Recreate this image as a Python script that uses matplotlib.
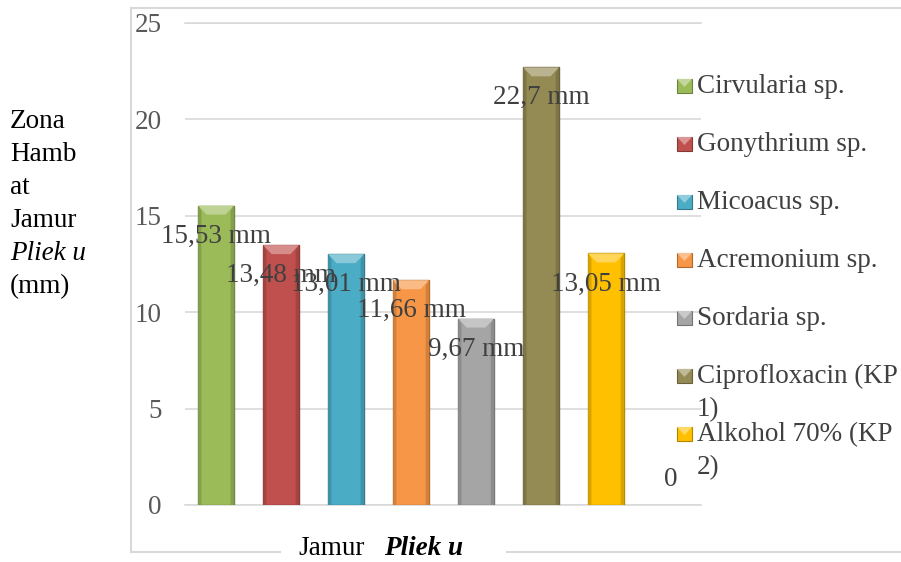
import matplotlib.pyplot as plt
import matplotlib.colors as mcolors
from matplotlib.patches import Polygon, Rectangle
from matplotlib.lines import Line2D
import numpy as np

plt.rcParams['font.family'] = ['Liberation Serif', 'DejaVu Serif']

# zona hambat per perlakuan (mm)
series = ['Cirvularia sp.', 'Gonythrium sp.', 'Micoacus sp.', 'Acremonium sp.',
          'Sordaria sp.', 'Ciprofloxacin (KP\n1)', 'Alkohol 70% (KP\n2)', '']
values = [15.53, 13.48, 13.01, 11.66, 9.67, 22.7, 13.05, 0]
labels = ['15,53 mm', '13,48 mm', '13,01 mm', '11,66 mm', '9,67 mm',
          '22,7 mm', '13,05 mm', '0']
colors = ['#9bbb59', '#c0504d', '#4bacc6', '#f79646', '#a5a5a5',
          '#948a54', '#ffc000', '#8064a2']
yticks = [0, 5, 10, 15, 20, 25]

W, H = 901, 562
FS = 19.5
GRID = '#d9d9d9'


def fx(x):
    return x / W


def fy(y):
    return 1 - y / H


def shade(c, f):
    r = np.array(mcolors.to_rgb(c))
    return tuple(r * f)


def tint(c, f):
    r = np.array(mcolors.to_rgb(c))
    return tuple(r + (1 - r) * f)


fig = plt.figure(figsize=(W / 100, H / 100), dpi=100)
ax = fig.add_axes([fx(185), fy(505), (701 - 185) / W, (505 - 23) / H])

x = np.arange(len(values))
bw = 0.55
ax.bar(x, values, width=bw, color=colors, edgecolor=[shade(c, 0.72) for c in colors],
       linewidth=[1 if v > 0 else 0 for v in values], zorder=3)

# bevel on the top of each bar
px_per_unit = (505 - 23) / 25
cap = 9 / px_per_unit
inset = 0.13
for xi, v, c in zip(x, values, colors):
    if v <= 0:
        continue
    l, r = xi - bw / 2, xi + bw / 2
    ax.add_patch(Polygon([(l, v), (r, v), (r - inset, v - cap), (l + inset, v - cap)],
                         closed=True, facecolor=tint(c, 0.35), edgecolor='none', zorder=4))
    ax.add_patch(Polygon([(l, 0), (l + 0.05, 0), (l + 0.05, v - cap * 0.6), (l, v)],
                         closed=True, facecolor=shade(c, 0.85), edgecolor='none', zorder=4))
    ax.add_patch(Polygon([(r, 0), (r - 0.05, 0), (r - 0.05, v - cap * 0.6), (r, v)],
                         closed=True, facecolor=shade(c, 0.85), edgecolor='none', zorder=4))

for xi, v, lab in zip(x, values, labels):
    off = -22 if v > 0 else 18
    ax.annotate(lab, (xi, v), xytext=(0, off), textcoords='offset points',
                ha='center', va='center', fontsize=FS, color='#404040', zorder=6)

ax.set_xlim(-0.477, 7.46)
ax.set_ylim(0, 25)
ax.set_yticks(yticks)
ax.set_xticks([])
ax.yaxis.grid(True, color=GRID, linewidth=1.2)
ax.set_axisbelow(True)
ax.tick_params(axis='y', length=0, pad=17, labelsize=FS, labelcolor='#595959')
for s in ['left', 'right']:
    ax.spines[s].set_visible(False)
for s in ['top', 'bottom']:
    ax.spines[s].set_color(GRID)
    ax.spines[s].set_linewidth(1.2)

# legend
for i, (name, c) in enumerate(zip(series[:7], colors[:7])):
    base = 93 + 58 * i
    fig.add_artist(Rectangle((fx(677), fy(base)), 15 / W, 14 / H, transform=fig.transFigure,
                             facecolor=c, edgecolor=shade(c, 0.7), linewidth=0.8))
    fig.add_artist(Polygon([(fx(677), fy(base - 14)), (fx(692), fy(base - 14)), (fx(684.5), fy(base - 6))],
                           closed=True, transform=fig.transFigure,
                           facecolor=tint(c, 0.4), edgecolor='none'))
    for j, line in enumerate(name.split('\n')):
        fig.text(fx(697), fy(base + 33 * j), line, ha='left', va='baseline',
                 fontsize=FS, color='#404040')

# y axis title
ylab = ['Zona', 'Hamb', 'at', 'Jamur', 'Pliek u', '(mm)']
for j, line in enumerate(ylab):
    fig.text(fx(10), fy(128 + 33 * j), line, ha='left', va='baseline', fontsize=FS,
             color='black', style='italic' if line == 'Pliek u' else 'normal')

# x axis title
fig.text(fx(298), fy(555), 'Jamur', ha='left', va='baseline', fontsize=FS, color='black')
fig.text(fx(463), fy(555), 'Pliek u', ha='right', va='baseline', fontsize=FS,
         color='black', style='italic', weight='bold')

# chart border
border = [((131, 131), (8, 552)), ((131, 901), (8, 8)),
          ((131, 280), (552, 552)), ((507, 901), (552, 552))]
for xs, ys in border:
    fig.add_artist(Line2D([fx(v) for v in xs], [fy(v) for v in ys],
                          transform=fig.transFigure, color=GRID, linewidth=1.5))

fig.savefig('out.png', dpi=100, facecolor='white')
